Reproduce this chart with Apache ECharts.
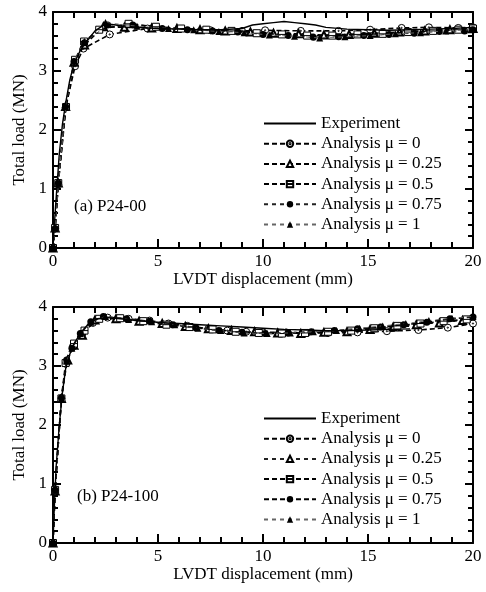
<!DOCTYPE html>
<html>
<head>
<meta charset="utf-8">
<script src="https://cdn.jsdelivr.net/npm/echarts@6/dist/echarts.min.js"></script>
<style>
  html, body { margin: 0; padding: 0; background: #fff; }
  #chart { width: 486px; height: 592px; }
</style>
</head>
<body>
<div id="chart"></div>
<script>
// ---------- (a) P24-00 ----------
const aExpX = [0, 0.05, 0.12, 0.2, 0.3, 0.45, 0.6, 0.8, 1.0, 1.3, 1.6, 2.0, 2.5, 3.0, 3.5, 4.0, 5.0, 6.0, 7.0, 8.0, 9.0, 9.5, 10.0, 10.5, 11.0, 11.5, 12.0, 12.5, 13.0, 14.0, 15.0, 16.0, 17.0, 18.0, 19.0, 20.0];
const aExpY = [0, 0.3, 0.7, 1.1, 1.6, 2.1, 2.45, 2.85, 3.12, 3.35, 3.5, 3.68, 3.8, 3.78, 3.74, 3.74, 3.72, 3.71, 3.7, 3.7, 3.72, 3.78, 3.8, 3.82, 3.84, 3.82, 3.8, 3.78, 3.74, 3.71, 3.7, 3.69, 3.7, 3.71, 3.72, 3.74];

const aMu0X = [0, 0.1, 0.25, 0.6, 1.05, 1.45, 2.7, 4.5, 6.0, 7.5, 9.0, 10.1, 11.8, 13.6, 15.1, 16.6, 17.9, 19.3, 20];
const aMu0Y = [0, 0.33, 1.08, 2.38, 3.08, 3.38, 3.62, 3.72, 3.71, 3.69, 3.68, 3.69, 3.68, 3.68, 3.7, 3.73, 3.74, 3.73, 3.74];

const aMu025X = [0, 0.1, 0.25, 0.6, 1.0, 1.5, 2.4, 3.4, 4.7, 5.9, 7.0, 8.2, 9.4, 10.5, 11.7, 12.9, 14.1, 15.3, 16.5, 17.7, 18.9, 20];
const aMu025Y = [0, 0.34, 1.1, 2.4, 3.15, 3.44, 3.75, 3.74, 3.73, 3.72, 3.7, 3.68, 3.66, 3.64, 3.63, 3.61, 3.62, 3.64, 3.66, 3.68, 3.7, 3.72];

const aMu05X = [0, 0.1, 0.25, 0.62, 1.05, 1.48, 2.2, 3.6, 4.9, 6.1, 7.3, 8.5, 9.7, 10.9, 12.1, 13.3, 14.5, 15.7, 16.9, 18.1, 19.3, 20];
const aMu05Y = [0, 0.34, 1.1, 2.39, 3.19, 3.5, 3.7, 3.8, 3.75, 3.72, 3.7, 3.68, 3.64, 3.62, 3.6, 3.6, 3.62, 3.63, 3.66, 3.68, 3.7, 3.72];

const aMu075X = [0, 0.1, 0.25, 0.6, 1.0, 1.5, 2.6, 3.8, 5.2, 6.4, 7.6, 8.8, 10.0, 11.2, 12.4, 13.6, 14.8, 16.0, 17.2, 18.4, 19.6, 20];
const aMu075Y = [0, 0.33, 1.1, 2.4, 3.16, 3.48, 3.78, 3.78, 3.72, 3.7, 3.68, 3.66, 3.62, 3.6, 3.57, 3.58, 3.6, 3.62, 3.64, 3.67, 3.68, 3.7];

const aMu1X = [0, 0.1, 0.25, 0.6, 1.0, 1.5, 2.5, 4.0, 5.5, 6.7, 7.9, 9.1, 10.3, 11.5, 12.7, 13.9, 15.1, 16.3, 17.5, 18.7, 19.9];
const aMu1Y = [0, 0.34, 1.1, 2.4, 3.17, 3.5, 3.82, 3.76, 3.72, 3.7, 3.67, 3.65, 3.61, 3.59, 3.56, 3.58, 3.6, 3.63, 3.65, 3.68, 3.7];

// ---------- (b) P24-100 ----------
const bExpX = [0, 0.05, 0.15, 0.3, 0.45, 0.6, 0.8, 1.0, 1.3, 1.7, 2.1, 2.6, 3.2, 4.0, 5.0, 6.0, 7.0, 8.0, 9.0, 10.0, 11.0, 12.0, 13.0, 14.0, 15.0, 16.0, 17.0];
const bExpY = [0, 0.5, 1.3, 2.0, 2.55, 2.95, 3.2, 3.38, 3.55, 3.72, 3.8, 3.82, 3.8, 3.77, 3.74, 3.72, 3.7, 3.68, 3.66, 3.64, 3.62, 3.61, 3.6, 3.6, 3.61, 3.62, 3.63];

const bMu0X = [0, 0.1, 0.4, 0.65, 0.95, 1.4, 1.9, 2.6, 3.6, 4.6, 5.5, 6.4, 7.4, 8.3, 9.2, 10.0, 11.1, 12.1, 13.1, 14.5, 15.9, 17.4, 18.8, 20];
const bMu0Y = [0, 0.9, 2.45, 3.05, 3.33, 3.55, 3.73, 3.82, 3.8, 3.77, 3.72, 3.68, 3.63, 3.6, 3.58, 3.57, 3.57, 3.56, 3.56, 3.57, 3.59, 3.61, 3.65, 3.72];

const bMu025X = [0, 0.1, 0.4, 0.7, 1.0, 1.4, 2.0, 3.0, 4.1, 5.2, 6.3, 7.4, 8.5, 9.6, 10.7, 11.8, 12.9, 14.0, 15.1, 16.2, 17.3, 18.4, 19.5];
const bMu025Y = [0, 0.88, 2.45, 3.1, 3.35, 3.52, 3.78, 3.8, 3.76, 3.72, 3.67, 3.63, 3.6, 3.58, 3.56, 3.55, 3.57, 3.58, 3.62, 3.66, 3.7, 3.73, 3.77];

const bMu05X = [0, 0.1, 0.4, 0.6, 1.0, 1.5, 2.2, 3.2, 4.3, 5.4, 6.5, 7.6, 8.7, 9.8, 10.9, 12.0, 13.1, 14.2, 15.3, 16.4, 17.5, 18.6, 19.7];
const bMu05Y = [0, 0.9, 2.45, 3.05, 3.38, 3.6, 3.8, 3.81, 3.76, 3.7, 3.66, 3.62, 3.58, 3.56, 3.55, 3.56, 3.58, 3.6, 3.64, 3.68, 3.72, 3.76, 3.79];

const bMu075X = [0, 0.1, 0.4, 0.65, 0.9, 1.3, 1.8, 2.4, 3.5, 4.6, 5.7, 6.8, 7.9, 9.0, 10.1, 11.2, 12.3, 13.4, 14.5, 15.6, 16.7, 17.8, 18.9, 20];
const bMu075Y = [0, 0.9, 2.46, 3.1, 3.3, 3.55, 3.75, 3.84, 3.8, 3.76, 3.7, 3.65, 3.6, 3.57, 3.55, 3.56, 3.58, 3.6, 3.63, 3.66, 3.7, 3.74, 3.8, 3.83];

const bMu1X = [0, 0.1, 0.4, 0.65, 0.9, 1.3, 1.8, 2.5, 3.6, 4.7, 5.8, 6.9, 8.0, 9.1, 10.2, 11.3, 12.4, 13.5, 14.6, 15.7, 16.8, 17.9, 19.0, 20];
const bMu1Y = [0, 0.9, 2.45, 3.08, 3.3, 3.55, 3.74, 3.84, 3.79, 3.75, 3.7, 3.64, 3.6, 3.56, 3.55, 3.56, 3.58, 3.6, 3.64, 3.68, 3.72, 3.77, 3.81, 3.84];

// ---------- labels ----------
const legendLabels = ['Experiment', 'Analysis \u03bc = 0', 'Analysis \u03bc = 0.25', 'Analysis \u03bc = 0.5', 'Analysis \u03bc = 0.75', 'Analysis \u03bc = 1'];
const panelLabels = ['(a) P24-00', '(b) P24-100'];
const xTitle = 'LVDT displacement (mm)';
const yTitle = 'Total load (MN)';

const FONT = 'Liberation Serif, Times New Roman, serif';
const FS = 17;

const zip = (xs, ys) => xs.map((x, i) => [x, ys[i]]);

// marker shapes
const SYM_CIRCLE_DOT = 'path://M10,0A10,10,0,1,1,9.99,0Z M10,8.2A1.8,1.8,0,1,1,9.99,8.2Z';
const SYM_SQUARE_BAR = 'path://M0,0H10V10H0Z M0,5H10';

const THICK = { width: 1.6, type: [5, 3], color: '#000' };
const THIN = { width: 0.9, type: [4, 4], color: '#222' };
const THIN_GREY = { width: 0.9, type: [4, 4], color: '#666' };

const markerStyles = [
  { symbol: SYM_CIRCLE_DOT, symbolSize: 7, itemStyle: { color: '#fff', borderColor: '#000', borderWidth: 1 } },
  { symbol: 'emptyTriangle', symbolSize: 7, itemStyle: { color: '#000', borderColor: '#000', borderWidth: 1 } },
  { symbol: SYM_SQUARE_BAR, symbolSize: 7, itemStyle: { color: '#fff', borderColor: '#000', borderWidth: 1 } },
  { symbol: 'circle', symbolSize: 7, itemStyle: { color: '#000', borderColor: '#000', borderWidth: 0 } },
  { symbol: 'triangle', symbolSize: 7, itemStyle: { color: '#000', borderColor: '#000', borderWidth: 0 } }
];

function panelSeries(prefix, axisIdx, exp, analyses, lineStyles) {
  const out = [];
  analyses.forEach((d, i) => {
    out.push(Object.assign({
      name: prefix + (i + 1),
      type: 'line',
      xAxisIndex: axisIdx,
      yAxisIndex: axisIdx,
      data: d,
      showSymbol: true,
      showAllSymbol: true,
      lineStyle: lineStyles[i],
      animation: false,
      z: 2 + i
    }, markerStyles[i]));
  });
  out.push({
    name: prefix + '0',
    type: 'line',
    xAxisIndex: axisIdx,
    yAxisIndex: axisIdx,
    data: exp,
    symbol: 'none',
    lineStyle: { width: 1.4, color: '#000', type: 'solid' },
    itemStyle: { color: '#000' },
    animation: false,
    z: 10
  });
  return out;
}

const seriesA = panelSeries('a', 0, zip(aExpX, aExpY), [
  zip(aMu0X, aMu0Y), zip(aMu025X, aMu025Y), zip(aMu05X, aMu05Y), zip(aMu075X, aMu075Y), zip(aMu1X, aMu1Y)
], [THICK, THICK, THICK, THIN, THIN_GREY]);

const seriesB = panelSeries('b', 2, zip(bExpX, bExpY), [
  zip(bMu0X, bMu0Y), zip(bMu025X, bMu025Y), zip(bMu05X, bMu05Y), zip(bMu075X, bMu075Y), zip(bMu1X, bMu1Y)
], [THICK, THIN, THICK, THICK, THIN_GREY]);

function xAx(grid, bottom) {
  return {
    type: 'value', gridIndex: grid, min: 0, max: 20, interval: 5,
    position: bottom ? 'bottom' : 'top',
    name: bottom ? xTitle : '', nameLocation: 'middle', nameGap: 21,
    nameTextStyle: { fontFamily: FONT, fontSize: FS, color: '#000' },
    axisLine: { show: true, onZero: false, lineStyle: { color: '#000', width: 2 } },
    axisTick: { show: true, inside: true, length: 9, lineStyle: { color: '#000', width: 2 } },
    minorTick: { show: true, splitNumber: 5, length: 6, lineStyle: { color: '#000', width: 2 } },
    axisLabel: { show: bottom, margin: 5, fontFamily: FONT, fontSize: FS, color: '#000' },
    splitLine: { show: false }
  };
}
function yAx(grid, left) {
  return {
    type: 'value', gridIndex: grid, min: 0, max: 4, interval: 1,
    position: left ? 'left' : 'right',
    name: left ? yTitle : '', nameLocation: 'middle', nameGap: 25, nameRotate: 90,
    nameTextStyle: { fontFamily: FONT, fontSize: FS, color: '#000' },
    axisLine: { show: true, onZero: false, lineStyle: { color: '#000', width: 2 } },
    axisTick: { show: true, inside: true, length: 8, lineStyle: { color: '#000', width: 2 } },
    minorTick: { show: true, splitNumber: 5, length: 5, lineStyle: { color: '#000', width: 2 } },
    axisLabel: { show: left, margin: 6, fontFamily: FONT, fontSize: FS, color: '#000' },
    splitLine: { show: false }
  };
}

function legendFor(prefix, top) {
  return {
    orient: 'vertical', left: 263, top: top,
    itemWidth: 52, itemHeight: 8, itemGap: 3.2,
    data: [0, 1, 2, 3, 4, 5].map(i => i === 0
      ? { name: prefix + i, itemStyle: { opacity: 0 } }
      : prefix + i),
    formatter: n => legendLabels[+n.slice(1)],
    textStyle: { fontFamily: FONT, fontSize: FS, color: '#000' },
    selectedMode: false,
    padding: 0
  };
}

const chart = echarts.init(document.getElementById('chart'), null, { renderer: 'canvas' });
chart.setOption({
  backgroundColor: '#fff',
  animation: false,
  grid: [
    { left: 53, right: 13, top: 12, height: 236 },
    { left: 53, right: 13, top: 307, height: 236 }
  ],
  xAxis: [xAx(0, true), xAx(0, false), xAx(1, true), xAx(1, false)],
  yAxis: [yAx(0, true), yAx(0, false), yAx(1, true), yAx(1, false)],
  legend: [legendFor('a', 115), legendFor('b', 410)],
  title: [
    { text: panelLabels[0], left: 74, top: 198, padding: 0, textStyle: { fontFamily: FONT, fontSize: FS, fontWeight: 'normal', color: '#000' } },
    { text: panelLabels[1], left: 77, top: 488, padding: 0, textStyle: { fontFamily: FONT, fontSize: FS, fontWeight: 'normal', color: '#000' } }
  ],
  series: seriesA.concat(seriesB)
});
</script>
</body>
</html>
